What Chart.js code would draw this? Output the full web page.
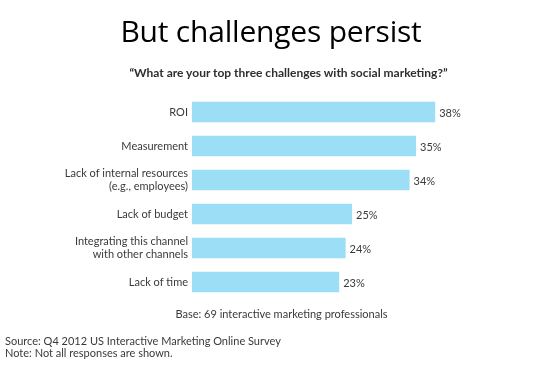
<!DOCTYPE html>
<html>
<head>
<meta charset="utf-8">
<script src="https://cdn.jsdelivr.net/npm/chart.js@4"></script>
<style>
  html, body { margin: 0; padding: 0; background: #fff; }
  body { width: 535px; height: 371px; position: relative; overflow: hidden; font-family: Lato, "Open Sans", sans-serif; }
  #wrap { position: absolute; left: 0; top: 0; width: 535px; height: 371px; }
  .txt { position: absolute; white-space: nowrap; color: #3a3a3a; }
  #title { left: 0; width: 542px; top: 10px; text-align: center; font-size: 30px; color: #000; font-family: "Open Sans", sans-serif; letter-spacing: -0.2px; }
  #subtitle { left: 0; width: 577px; top: 65px; text-align: center; font-size: 12px; font-weight: bold; color: #2e2e2e; }
  #base { left: 0; width: 563px; top: 307px; text-align: center; font-size: 11px; }
  #source { left: 5px; top: 335px; font-size: 11px; line-height: 12px; }
</style>
</head>
<body>
<div id="wrap"><canvas id="chart" width="535" height="371"></canvas></div>
<div class="txt" id="title">But challenges persist</div>
<div class="txt" id="subtitle">“What are your top three challenges with social marketing?”</div>
<div class="txt" id="base">Base: 69 interactive marketing professionals</div>
<div class="txt" id="source">Source: Q4 2012 US Interactive Marketing Online Survey<br>Note: Not all responses are shown.</div>
<script>
(function () {
  "use strict";

  const categories = [
    "ROI",
    "Measurement",
    ["Lack of internal resources", "(e.g., employees)"],
    "Lack of budget",
    ["Integrating this channel", "with other channels"],
    "Lack of time"
  ];
  const values = [38, 35, 34, 25, 24, 23];

  const barColor = "#9bdef5";
  const textColor = "#3a3a3a";

  // draws "38%" just past the end of each bar
  const valueLabels = {
    id: "valueLabels",
    afterDatasetsDraw(chart) {
      const c = chart.ctx;
      const meta = chart.getDatasetMeta(0);
      c.save();
      c.font = "11px Lato, sans-serif";
      c.fillStyle = textColor;
      c.textAlign = "left";
      c.textBaseline = "middle";
      meta.data.forEach((bar, i) => {
        c.fillText(values[i] + "%", bar.x + 4, bar.y + 1);
      });
      c.restore();
    }
  };

  new Chart(document.getElementById("chart"), {
    type: "bar",
    data: {
      labels: categories,
      datasets: [{
        data: values,
        backgroundColor: barColor,
        borderWidth: 0,
        barPercentage: 0.6,
        categoryPercentage: 1
      }]
    },
    options: {
      indexAxis: "y",
      responsive: false,
      animation: false,
      events: [],
      layout: { padding: { left: 0, right: 23, top: 95, bottom: 72 } },
      plugins: { legend: { display: false }, tooltip: { enabled: false } },
      scales: {
        x: { min: 0, max: 50, display: false },
        y: {
          grid: { display: false, drawTicks: false },
          border: { display: false },
          afterFit(scale) { scale.width = 192; },
          ticks: {
            padding: 4,
            color: textColor,
            font: { family: "Lato, sans-serif", size: 11, lineHeight: 1.1 }
          }
        }
      }
    },
    plugins: [valueLabels]
  });
})();
</script>
</body>
</html>
